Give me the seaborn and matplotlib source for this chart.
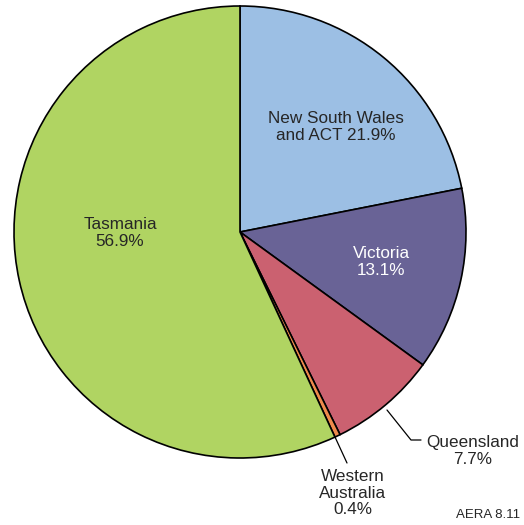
import seaborn as sns
import matplotlib.pyplot as plt

# data
regions = ['New South Wales and ACT', 'Victoria', 'Queensland', 'Western Australia', 'Tasmania']
shares = [21.9, 13.1, 7.7, 0.4, 56.9]
colours = ['#9cbfe4', '#696396', '#cb6170', '#ee8a4c', '#b0d462']

sns.set_style('white')
plt.rcParams['font.family'] = ['Liberation Sans', 'DejaVu Sans']

fig = plt.figure(figsize=(5.24, 5.25), dpi=100)
ax = fig.add_axes([0, 0, 1, 1])

# pie in pixel-like coordinates (y up)
cx, cy, r = 240, 293, 226
ax.pie(shares, colors=colours, startangle=90, counterclock=False,
       center=(cx, cy), radius=r, frame=True,
       wedgeprops=dict(edgecolor='black', linewidth=1.2))
ax.set_xlim(0, 524)
ax.set_ylim(0, 525)
ax.set_aspect('equal')
ax.axis('off')

fs = 12.3
ax.text(336, 398, 'New South Wales\nand ACT 21.9%', ha='center', va='center', fontsize=fs, linespacing=1.15)
ax.text(381, 263, 'Victoria\n13.1%', ha='center', va='center', fontsize=fs, color='white', linespacing=1.15)
ax.text(120, 292, 'Tasmania\n56.9%', ha='center', va='center', fontsize=fs, linespacing=1.15)
ax.text(473, 74, 'Queensland\n7.7%', ha='center', va='center', fontsize=fs, linespacing=1.15)
ax.text(353, 32, 'Western\nAustralia\n0.4%', ha='center', va='center', fontsize=fs, linespacing=1.15)
ax.text(520, 10, 'AERA 8.11', ha='right', va='center', fontsize=9.5)

# leader lines
ax.plot([387, 411, 421], [115, 85, 85], color='black', lw=0.9)
ax.plot([335, 347], [88, 62], color='black', lw=0.9)

fig.savefig('out.png', dpi=100)
